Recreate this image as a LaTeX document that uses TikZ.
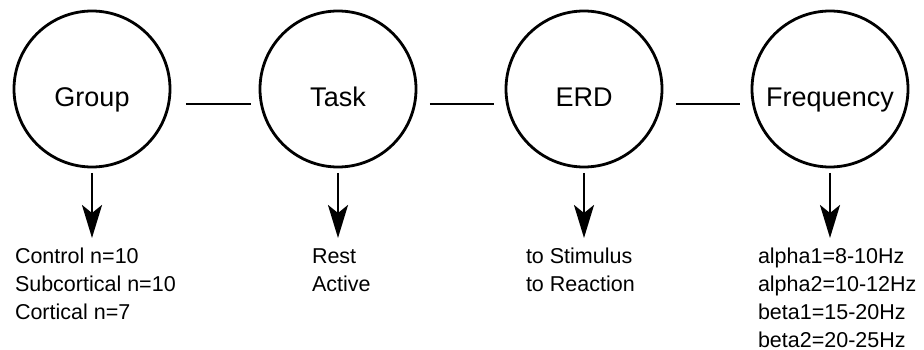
\documentclass[tikz,border=0pt]{standalone}
\usepackage{fontspec}
\setmainfont{Liberation Sans}
\usetikzlibrary{arrows.meta}
\newcommand{\linesbox}[1]{\vtop{\baselineskip=28pt\lineskiplimit=-100pt#1}}
\begin{document}
\begin{tikzpicture}[x=1pt,y=-1pt,
  bubble/.style={draw, circle, line width=2.8pt, minimum size=156pt, inner sep=0pt,
    font=\fontsize{27}{32}\selectfont, text height=36pt, text depth=0pt},
  conn/.style={line width=2.8pt},
  down/.style={line width=2.8pt, -{Stealth[length=33pt,width=20pt,inset=8pt]}},
  lbl/.style={anchor=base west, inner sep=0pt, outer sep=0pt,
    font=\fontsize{21.5}{28}\selectfont}]
\useasboundingbox (0,0) rectangle (924,350);
\node[bubble] (g) at (92,89) {Group};
\node[bubble] (t) at (338,89) {Task};
\node[bubble] (e) at (584,89) {ERD};
\node[bubble] (f) at (830,89) {Frequency};
\draw[conn, shorten <=14.5pt, shorten >=7.5pt] ([yshift=-15pt]g.east) -- ([yshift=-15pt]t.west);
\draw[conn, shorten <=12.5pt, shorten >=10.5pt] ([yshift=-15pt]t.east) -- ([yshift=-15pt]e.west);
\draw[conn, shorten <=12.5pt, shorten >=10.5pt] ([yshift=-15pt]e.east) -- ([yshift=-15pt]f.west);
\node[lbl] (gt) at (15,263) {\linesbox{\hbox{Control n=10}\hbox{Subcortical n=10}\hbox{Cortical n=7}}};
\node[lbl] (tt) at (312,263) {\linesbox{\hbox{Rest}\hbox{Active}}};
\node[lbl] (et) at (526,263) {\linesbox{\hbox{to Stimulus}\hbox{to Reaction}}};
\node[lbl] (ft) at (758,263) {\linesbox{\hbox{alpha1=8-10Hz}\hbox{alpha2=10-12Hz}\hbox{beta1=15-20Hz}\hbox{beta2=20-25Hz}}};
\coordinate (ga) at (92,238);
\coordinate (ta) at (338,238);
\coordinate (ea) at (584,238);
\coordinate (fa) at (830,238);
\draw[down, shorten <=4.5pt] (g.south) -- (ga);
\draw[down, shorten <=4.5pt] (t.south) -- (ta);
\draw[down, shorten <=4.5pt] (e.south) -- (ea);
\draw[down, shorten <=4.5pt] (f.south) -- (fa);
\end{tikzpicture}
\end{document}
